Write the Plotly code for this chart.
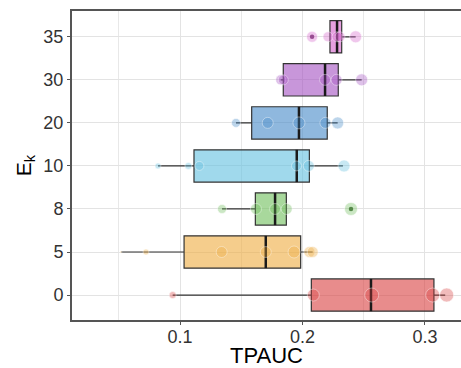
import plotly.graph_objects as go

# ---------------- data ----------------
categories = ["0", "5", "8", "10", "20", "30", "35"]

q1_vals = [0.2072, 0.1033, 0.1615, 0.1114, 0.1585, 0.1843, 0.2224]
median_vals = [0.2559, 0.1700, 0.1776, 0.1953, 0.1971, 0.2184, 0.2282]
q3_vals = [0.3073, 0.1985, 0.1868, 0.2056, 0.2202, 0.2292, 0.2320]
lower_whisker = [0.0940, 0.0518, 0.1343, 0.0820, 0.1457, 0.1822, 0.2224]
upper_whisker = [0.3165, 0.2083, 0.1871, 0.2330, 0.2287, 0.2483, 0.2434]

points_0 = [0.0940, 0.2088, 0.2565, 0.3063, 0.3177]
points_5 = [0.0518, 0.0722, 0.1340, 0.1700, 0.1931, 0.2056, 0.2083]
points_8 = [0.1343, 0.1620, 0.1776, 0.1871, 0.2396]
points_10 = [0.0820, 0.1068, 0.1158, 0.1951, 0.2051, 0.2339]
points_20 = [0.1457, 0.1716, 0.1971, 0.2187, 0.2287]
points_30 = [0.1822, 0.1843, 0.2184, 0.2278, 0.2483]
points_35 = [0.2078, 0.2208, 0.2282, 0.2306, 0.2434]

sizes_0 = [7, 12, 14, 14, 14]
sizes_5 = [2, 6, 11, 11, 12, 11, 11]
sizes_8 = [9, 11, 11, 11, 13]
sizes_10 = [6, 7, 9, 10, 11, 12]
sizes_20 = [9, 11, 12, 11, 12]
sizes_30 = [10, 10, 11, 11, 12]
sizes_35 = [11, 10, 10, 10, 12]

outlier_x = [0.2396, 0.2078]
outlier_cat = ["8", "35"]

# ---------------- styling ----------------
base_rgb = [(217, 63, 63), (238, 172, 63), (110, 190, 90), (97, 192, 223),
            (68, 137, 200), (163, 80, 193), (213, 97, 203)]
BOX_W = 0.75

all_points = [points_0, points_5, points_8, points_10, points_20, points_30, points_35]
all_sizes = [sizes_0, sizes_5, sizes_8, sizes_10, sizes_20, sizes_30, sizes_35]

fig = go.Figure()

for i, cat in enumerate(categories):
    r, g, b = base_rgb[i]
    fig.add_trace(go.Box(
        y=[i], q1=[q1_vals[i]], median=[median_vals[i]], q3=[q3_vals[i]],
        lowerfence=[lower_whisker[i]], upperfence=[upper_whisker[i]],
        orientation="h", width=BOX_W, whiskerwidth=0,
        fillcolor=f"rgba({r},{g},{b},0.6)",
        line=dict(color="#333333", width=1.2),
        boxpoints=False, showlegend=False, hoverinfo="skip",
    ))

# median lines (thicker)
mx, my = [], []
for i, m in enumerate(median_vals):
    mx += [m, m, None]
    my += [i - BOX_W / 2, i + BOX_W / 2, None]
fig.add_trace(go.Scatter(x=mx, y=my, mode="lines",
                         line=dict(color="#1a1a1a", width=2.5),
                         showlegend=False, hoverinfo="skip"))

# outlier dots (dark, small)
out_colors = []
for c in outlier_cat:
    r, g, b = base_rgb[categories.index(c)]
    out_colors.append(f"rgba({r//2},{g//2},{b//2},0.9)")
fig.add_trace(go.Scatter(
    x=outlier_x, y=[categories.index(c) for c in outlier_cat], mode="markers",
    marker=dict(size=4.5, color=out_colors),
    showlegend=False, hoverinfo="skip"))

# jittered data points
for i, cat in enumerate(categories):
    r, g, b = base_rgb[i]
    fig.add_trace(go.Scatter(
        x=all_points[i], y=[i] * len(all_points[i]), mode="markers",
        marker=dict(size=all_sizes[i], color=f"rgba({r},{g},{b},0.5)",
                    line=dict(color="rgba(255,255,255,0.55)", width=1)),
        showlegend=False, hoverinfo="skip"))

font_family = "Liberation Sans, Arial, Helvetica, sans-serif"

fig.update_layout(
    width=461, height=368,
    margin=dict(l=72, r=0, t=11, b=48),
    paper_bgcolor="white", plot_bgcolor="white",
    font=dict(family=font_family, color="#333333"),
    xaxis=dict(
        range=[0.0118, 0.3294], tick0=0, dtick=0.1, tickformat=".1f",
        showgrid=True, gridcolor="#E3E3E3", gridwidth=1,
        minor=dict(dtick=0.05, showgrid=True, gridcolor="#E8E8E8", gridwidth=1),
        zeroline=False, showline=True, mirror=True, linecolor="#555555", linewidth=2,
        ticks="outside", ticklen=3, tickcolor="#555555",
        ticklabelstandoff=-4,
        tickfont=dict(size=18, color="#333333"),
        title=dict(text="TPAUC", font=dict(size=22, color="black"), standoff=2),
    ),
    yaxis=dict(
        range=[-0.58, 6.6], tickmode="array", tickvals=list(range(len(categories))),
        ticktext=categories,
        showgrid=True, gridcolor="#E3E3E3", gridwidth=1,
        zeroline=False, showline=True, mirror=False, linecolor="#555555", linewidth=2,
        ticks="outside", ticklen=3, tickcolor="#555555",
        tickfont=dict(size=18, color="#333333"),
        title=dict(text="E<sub>k</sub>", font=dict(size=21, color="black"), standoff=6),
    ),
)

fig.write_html("out.html")
